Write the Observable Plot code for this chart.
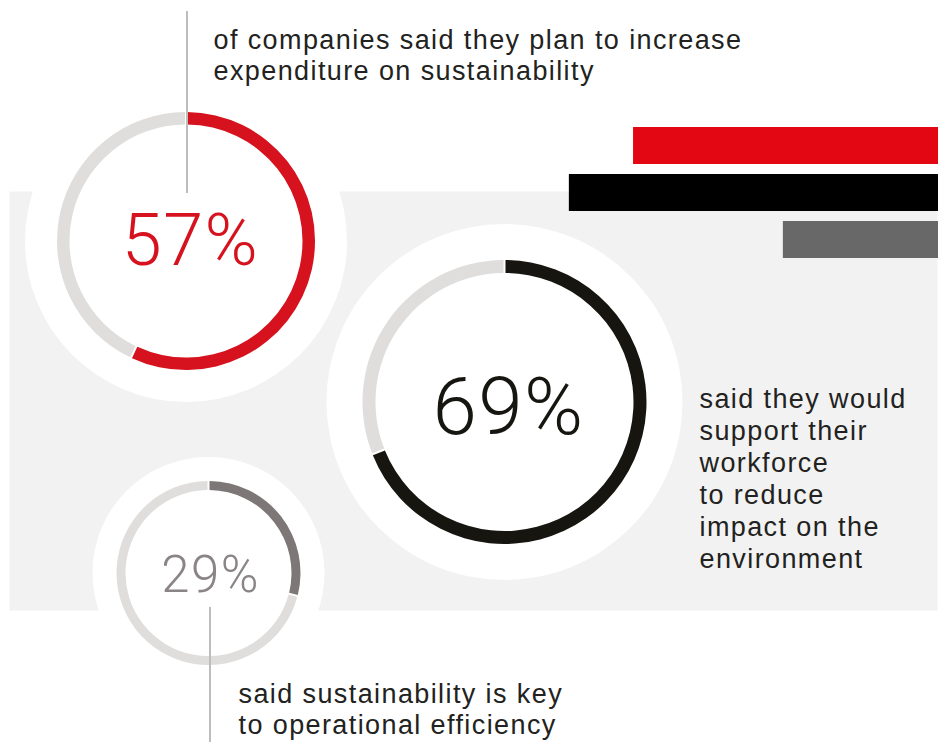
<!DOCTYPE html>
<html>
<head>
<meta charset="utf-8">
<script src="https://cdn.jsdelivr.net/npm/d3@7"></script>
<script src="https://cdn.jsdelivr.net/npm/@observablehq/plot@0.6"></script>
<style>
  html, body { margin: 0; padding: 0; background: #ffffff; }
  #chart svg { display: block; }
  #chart g[font-family*="Liberation"] text { letter-spacing: 1.4px; }
</style>
</head>
<body>
<div id="chart"></div>
<script>
// ---- data ----
const statKeys = ["expenditure", "workforce", "efficiency"];
const statValues = [57, 69, 29];
const statLabels = ["57%", "69%", "29%"];
const statTexts = [
  "of companies said they plan to increase\nexpenditure on sustainability",
  "said they would\nsupport their\nworkforce\nto reduce\nimpact on the\nenvironment",
  "said sustainability is key\nto operational efficiency"
];

// ---- styles / layout (not data) ----
const barColors = ["#e30613", "#000000", "#686868"];
const arcColors = ["#d6121e", "#16150f", "#7d7778"];
const numColors = ["#d6121e", "#16150f", "#8a8485"];
const trackColor = "#dfdedd";
const leaderColor = "#bdbdbd";
const bodyColor = "#222220";
const W = 942, H = 742;
const frame = {left: 9, top: 191, right: 937, bottom: 610};
const layout = [
  {cx: 186, cy: 241, r: 129, w: 12.5, halo: 161, size: 72, numDx: 4, numBase: 264,
   tx: 213, tyLast: 79, lh: 31, leader: [187, 11, 193]},
  {cx: 504.5, cy: 402, r: 142, w: 13, halo: 178, size: 80, numDx: 3.5, numBase: 433,
   tx: 699, tyLast: 567, lh: 32, leader: null},
  {cx: 208.5, cy: 573, r: 92, w: 9, halo: 116, size: 51, numDx: 1.5, numBase: 591,
   tx: 238, tyLast: 733, lh: 30.5, leader: [210, 607, 742]}
];
const bodySize = 27;

const stats = statKeys.map((key, i) => ({key, value: statValues[i], label: statLabels[i], text: statTexts[i]}));

const angleScale = (typeof Plot.scale === "function")
  ? Plot.scale({x: {domain: [0, 100], range: [0, 2 * Math.PI]}})
  : {apply: d3.scaleLinear([0, 100], [0, 2 * Math.PI])};

function donuts(index, scales, values, dimensions, context) {
  const g = d3.create("svg:g");
  stats.forEach((s, i) => {
    const L = layout[i];
    const a = angleScale.apply(s.value);
    const gi = g.append("g").attr("transform", `translate(${L.cx},${L.cy})`);
    gi.append("circle").attr("r", L.halo).attr("fill", "#ffffff");
    const arc = d3.arc().innerRadius(L.r - L.w).outerRadius(L.r)
      .padRadius(L.r).padAngle(2 / L.r);
    gi.append("path").attr("d", arc({startAngle: a, endAngle: angleScale.apply(100)})).attr("fill", trackColor);
    gi.append("path").attr("d", arc({startAngle: angleScale.apply(0), endAngle: a})).attr("fill", arcColors[i]);
  });
  layout.forEach(L => {
    if (!L.leader) return;
    g.append("line").attr("x1", L.leader[0]).attr("x2", L.leader[0])
      .attr("y1", L.leader[1]).attr("y2", L.leader[2])
      .attr("stroke", leaderColor).attr("stroke-width", 2);
  });
  return g.node();
}

const textMarks = [];
stats.forEach((s, i) => {
  const L = layout[i];
  textMarks.push(Plot.text([s], {
    text: "label", frameAnchor: "top-left",
    dx: L.cx + L.numDx - frame.left, dy: L.numBase - frame.top,
    textAnchor: "middle", lineAnchor: "bottom",
    fontSize: L.size, fontWeight: 300, fontFamily: "Roboto, 'Liberation Sans', sans-serif",
    fill: numColors[i]
  }));
  textMarks.push(Plot.text([s], {
    text: "text", frameAnchor: "top-left",
    dx: L.tx - frame.left, dy: L.tyLast - frame.top,
    textAnchor: "start", lineAnchor: "bottom", lineHeight: L.lh / bodySize,
    fontSize: bodySize, fontWeight: 400, fontFamily: "Liberation Sans, Arial, sans-serif",
    fill: bodyColor
  }));
});

const chart = Plot.plot({
  width: W, height: H,
  marginLeft: frame.left, marginRight: W - frame.right,
  marginTop: frame.top, marginBottom: H - frame.bottom,
  x: {domain: [0, 100], range: [938, 938 - 535], axis: null},
  y: {domain: statKeys, range: [126, 258], paddingInner: 0.22, paddingOuter: 0, axis: null},
  color: {domain: statKeys, range: barColors},
  style: {background: "#ffffff", overflow: "visible"},
  marks: [
    Plot.frame({fill: "#f2f2f2", stroke: "none"}),
    Plot.barX(stats, {x: "value", y: "key", fill: "key"}),
    donuts,
    ...textMarks
  ]
});
document.getElementById("chart").appendChild(chart);
</script>
</body>
</html>
